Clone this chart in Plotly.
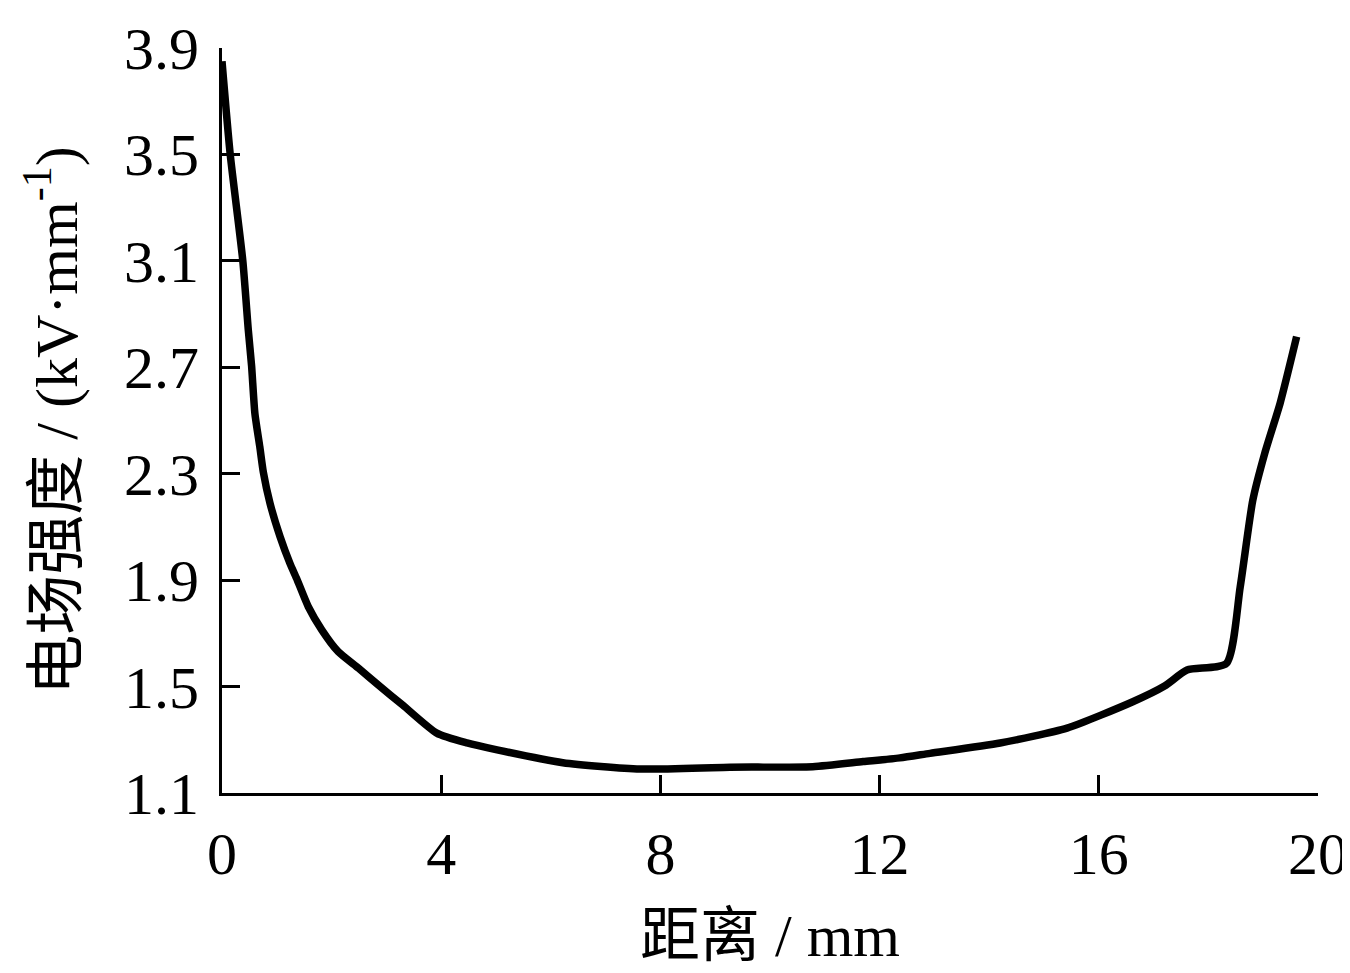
import plotly.graph_objects as go

distance_mm = [0.0, 0.15, 0.38, 0.48, 0.54, 0.60, 0.69, 0.755, 0.876, 1.06, 1.24, 1.36, 1.575,
               1.82, 2.12, 2.49, 2.85, 3.3,
               3.92, 4.47, 5.02, 6.22, 7.63, 9.27, 10.78, 11.7, 12.37, 12.92, 14.2,
               15.42, 16.62, 17.2, 17.61, 18.33, 18.58, 18.81, 19.03, 19.31, 19.61]
field_kv_mm = [3.85, 3.50, 3.10, 2.84, 2.705, 2.527, 2.401, 2.305, 2.189, 2.063, 1.963, 1.907, 1.80,
               1.713, 1.631, 1.569, 1.506, 1.43,
               1.325, 1.288, 1.262, 1.214, 1.190, 1.197, 1.199, 1.218, 1.232, 1.249, 1.288,
               1.344, 1.443, 1.502, 1.562, 1.587, 1.874, 2.20, 2.378, 2.566, 2.815]

x_ticks = [0, 4, 8, 12, 16, 20]
y_ticks = [1.1, 1.5, 1.9, 2.3, 2.7, 3.1, 3.5, 3.9]

FONT = "Liberation Serif, Times New Roman, Noto Sans CJK SC, serif"

fig = go.Figure()
fig.add_trace(go.Scatter(x=distance_mm, y=field_kv_mm, mode="lines",
                         line=dict(color="black", width=7.5, shape="spline", smoothing=0.6),
                         showlegend=False))

fig.update_layout(
    width=1342, height=965,
    margin=dict(l=214, r=32, t=40, b=180),
    paper_bgcolor="white", plot_bgcolor="white",
    font=dict(family=FONT, size=60, color="black"),
)
fig.update_xaxes(
    range=[0, 20], tickvals=x_ticks, ticktext=[str(v) for v in x_ticks],
    showline=True, linecolor="black", linewidth=3, showgrid=False, zeroline=False,
    ticks="inside", ticklen=18, tickwidth=3, tickcolor="black",
    tickfont=dict(family=FONT, size=60), ticklabelstandoff=6, automargin=False,
    title=dict(text="距离 / mm", font=dict(family=FONT, size=60), standoff=28),
)
fig.update_yaxes(
    range=[1.1, 3.9], tickvals=y_ticks, ticktext=[f"{v:.1f}" for v in y_ticks],
    showline=True, linecolor="black", linewidth=3, showgrid=False, zeroline=False,
    ticks="inside", ticklen=18, tickwidth=3, tickcolor="black",
    tickfont=dict(family=FONT, size=60), ticklabelstandoff=8, automargin=False,
    title=dict(text="电场强度 / (kV·mm<sup>-1</sup>)", font=dict(family=FONT, size=60), standoff=28),
)

fig.write_html("out.html")
